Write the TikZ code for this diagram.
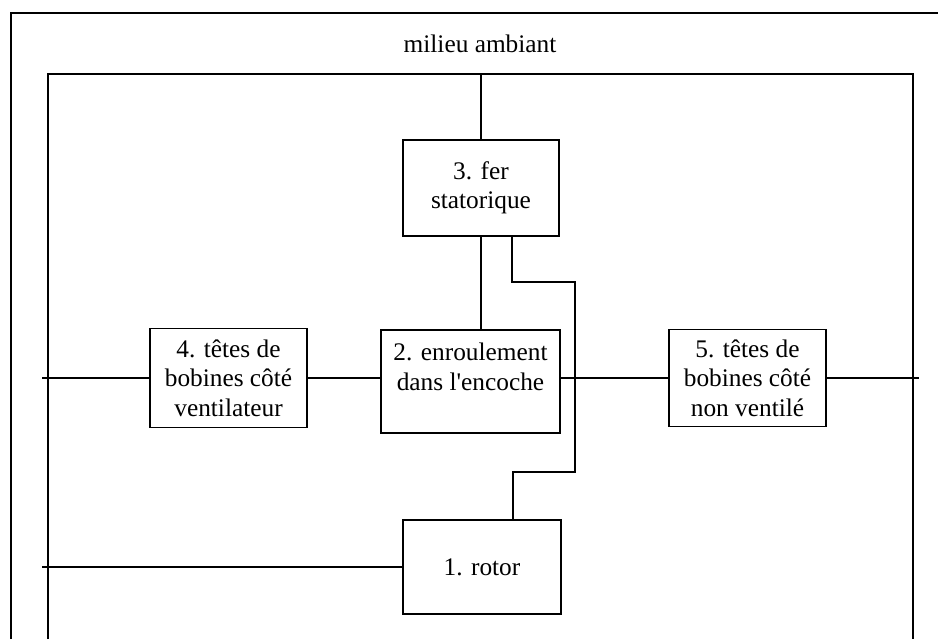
\documentclass[tikz,border=0pt]{standalone}
\usepackage{fontspec}
\setmainfont{Liberation Serif}
\usetikzlibrary{calc}

\begin{document}
\begin{tikzpicture}[x=0.75pt,y=-0.75pt,line width=1.2pt,
				every node/.style={font=\fontsize{19}{22}\selectfont},
				bloc/.style={draw,align=center,inner sep=2pt}]
			% cadres
			\useasboundingbox (0,0) rectangle (938,639);
			\draw (11,639) |- (938,13);
			\draw (48,639) |- (913,74) -- (913,639);
			\coordinate (ci) at (48,74);
			\coordinate (G)  at (42,378);
			\coordinate (D)  at (919,378);

			\node (amb) at (480,44) {milieu ambiant};
			\node[bloc, minimum width=117pt, minimum height=72pt]      (N3) at (481,188)   {3. fer\\statorique};
			\node[bloc, minimum width=134.25pt, minimum height=77.25pt] (N2) at (470.5,381.5) {2. enroulement\\dans l\textquotesingle encoche\\~};
			\node[bloc, minimum width=117.75pt, minimum height=74pt]   (N4) at (228.5,378) {4. têtes de\\bobines côté\\ventilateur};
			\node[bloc, minimum width=117.75pt, minimum height=73pt]   (N5) at (747.5,378) {5. têtes de\\bobines côté\\non ventilé};
			\node[bloc, minimum width=118.5pt, minimum height=70.5pt]  (N1) at (482,567)   {1. rotor};

			\draw (N3.north) -- (N3.north |- ci);
			\draw (N3.south) -- (N3.south |- N2.north);
			\draw ($(N3.south)+(31,0)$) |- (575,282) -- (575,472) -| ($(N1.north)+(31,0)$);
			\draw (G) -- (N4.west);
			\draw (N4.east) -- (N4.east -| N2.west);
			\draw (N2.east |- G) -- (N5.west);
			\draw (N5.east) -- (D);
			\draw (G |- N1) -- (N1.west);
		\end{tikzpicture}
\end{document}
